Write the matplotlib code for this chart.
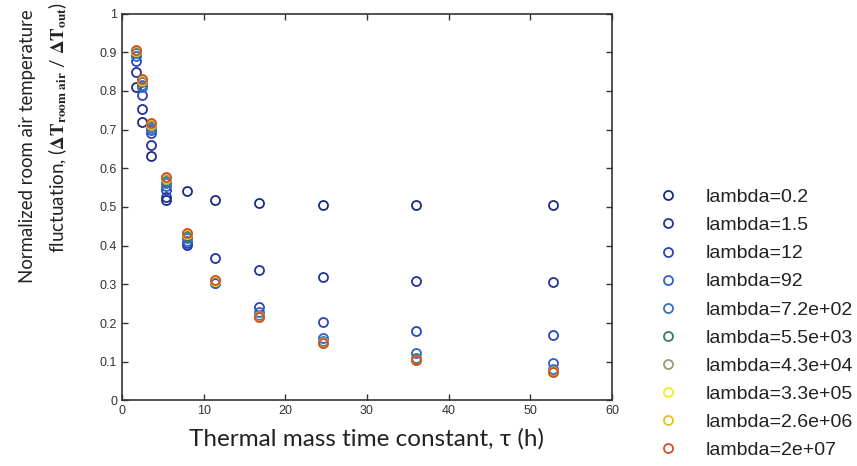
import numpy as np
import matplotlib
matplotlib.use("Agg")
import matplotlib.pyplot as plt

plt.rcParams['mathtext.fontset'] = 'stix'

tau = [1.7, 2.5, 3.6, 5.4, 7.9, 11.4, 16.8, 24.6, 36.0, 52.8]

labels = ["lambda=0.2", "lambda=1.5", "lambda=12", "lambda=92", "lambda=7.2e+02",
          "lambda=5.5e+03", "lambda=4.3e+04", "lambda=3.3e+05", "lambda=2.6e+06",
          "lambda=2e+07"]

ratio = [
    [0.809, 0.719, 0.632, 0.518, 0.541, 0.518, 0.510, 0.506, 0.505, 0.505],
    [0.850, 0.752, 0.660, 0.527, 0.402, 0.367, 0.337, 0.320, 0.310, 0.305],
    [0.877, 0.789, 0.690, 0.545, 0.406, 0.303, 0.242, 0.204, 0.180, 0.169],
    [0.890, 0.810, 0.700, 0.555, 0.412, 0.303, 0.228, 0.161, 0.122, 0.098],
    [0.897, 0.815, 0.705, 0.562, 0.419, 0.305, 0.222, 0.154, 0.110, 0.082],
    [0.900, 0.822, 0.710, 0.568, 0.425, 0.307, 0.219, 0.151, 0.106, 0.076],
    [0.902, 0.826, 0.713, 0.572, 0.429, 0.309, 0.218, 0.150, 0.105, 0.075],
    [0.903, 0.828, 0.714, 0.574, 0.431, 0.310, 0.217, 0.149, 0.104, 0.074],
    [0.904, 0.829, 0.715, 0.576, 0.432, 0.311, 0.217, 0.149, 0.104, 0.074],
    [0.905, 0.831, 0.716, 0.578, 0.433, 0.311, 0.217, 0.149, 0.104, 0.074],
]

colors = ['#1c2a80', '#2233a0', '#2a45b8', '#2f5fd0', '#3a6fb8',
          '#3d7a60', '#9a9a78', '#f2ee20', '#e8c020', '#d0502a']

fig = plt.figure(figsize=(8.57, 4.66), dpi=100)
ax = fig.add_axes([0.1424, 0.1406, 0.5716, 0.8304])

for vals, lab, col in zip(ratio, labels, colors):
    ax.plot(tau, vals, 'o', mfc='none', mec=col, ms=6.5, mew=1.3, label=lab)

ax.set_xlim(0, 60)
ax.set_ylim(0, 1)
ax.set_xticks(np.arange(0, 61, 10))
ax.set_yticks(np.arange(0, 1.01, 0.1))
ax.set_yticklabels(["0", "0.1", "0.2", "0.3", "0.4", "0.5", "0.6", "0.7", "0.8", "0.9", "1"])
ax.tick_params(direction='in', top=True, right=True, length=4, width=1,
               labelsize=9, labelcolor='#333333', colors='#333333')
for lbl in ax.get_xticklabels() + ax.get_yticklabels():
    lbl.set_family('Liberation Sans')
for s in ax.spines.values():
    s.set_color('#333333')
    s.set_linewidth(1.2)

ax.set_xlabel("Thermal mass time constant, \u03c4 (h)", family='Lato', fontsize=17.5,
              color='#222222', labelpad=8)

fig.text(28 / 857, 1 - 146 / 466, "Normalized room air temperature", rotation=90,
         ha='center', va='center', family='Lato', fontsize=13.4, color='#222222')
fig.text(58 / 857, 1 - 127 / 466,
         r"fluctuation, ($\mathbf{\Delta T_{room\ air}}$ / $\mathbf{\Delta T_{out}}$)",
         rotation=90, ha='center', va='center', family='Lato', fontsize=13.6,
         color='#222222')

leg = fig.legend(loc='upper left', bbox_to_anchor=(640 / 857, 1 - 171 / 466),
                 frameon=False, prop={'family': 'Liberation Sans', 'size': 14},
                 labelspacing=0.54, handletextpad=1.4, handlelength=1.1)
for t in leg.get_texts():
    t.set_color('#222222')

fig.savefig("out.png", dpi=100)
